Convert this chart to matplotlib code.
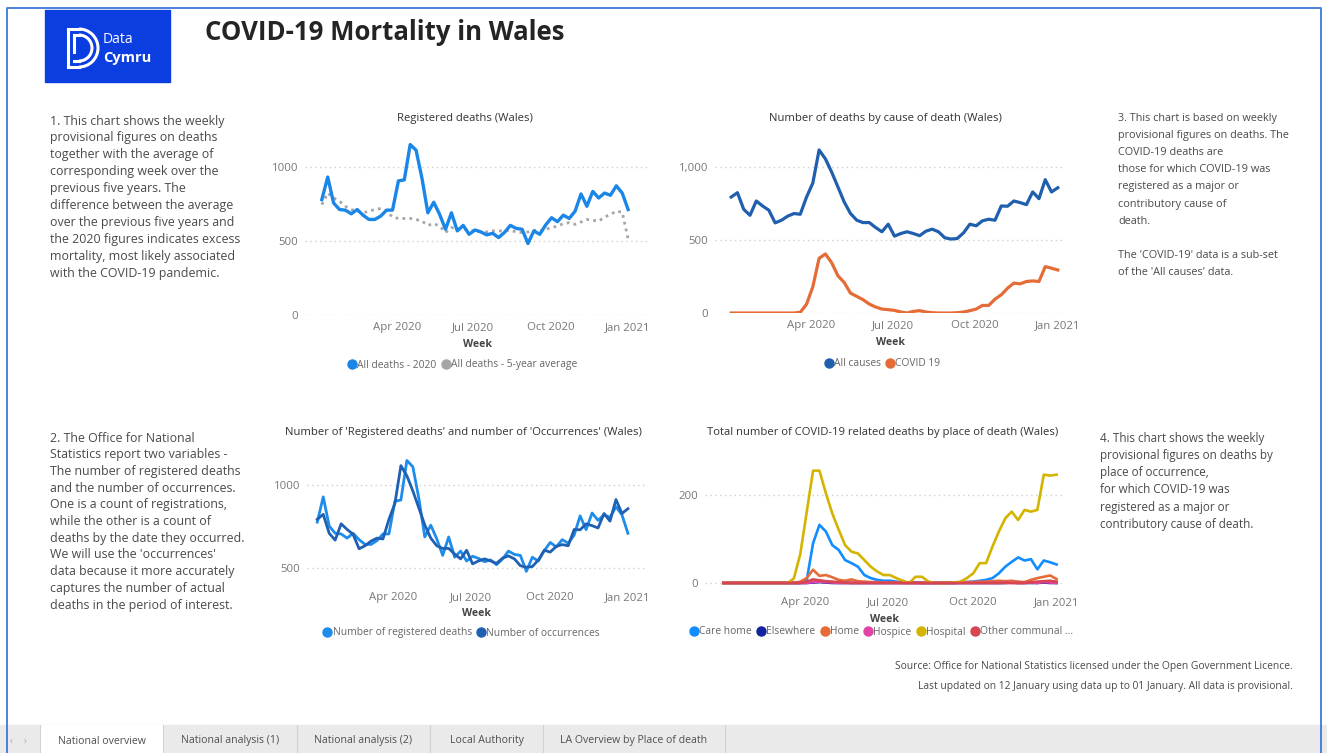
import matplotlib.pyplot as plt
import matplotlib.dates as mdates
import pandas as pd
from matplotlib.lines import Line2D
from matplotlib.patches import Rectangle, Arc

W, H = 1327, 753

# weekly data, week ending 3 Jan 2020 .. 1 Jan 2021
weeks = pd.date_range('2020-01-03', periods=53, freq='7D')
date_ticks = pd.to_datetime(['2020-04-01', '2020-07-01', '2020-10-01', '2021-01-01'])

deaths_2020 = [778, 930, 755, 711, 707, 682, 711, 673, 644, 644, 667, 707, 707, 904, 911,
               1149, 1111, 922, 689, 760, 678, 578, 689, 567, 604, 544, 573, 560, 540, 551,
               522, 556, 604, 584, 578, 482, 567, 544, 607, 656, 629, 673, 651, 700, 816,
               733, 833, 789, 822, 807, 871, 822, 711]
avg_5yr = [744, 822, 789, 767, 733, 711, 700, 689, 700, 711, 718, 700, 660, 651, 651,
           651, 644, 633, 604, 616, 600, 556, 589, 578, 578, 571, 567, 560, 560, 567,
           567, 567, 571, 560, 556, 560, 571, 567, 578, 589, 600, 616, 622, 611, 627,
           644, 638, 633, 660, 678, 700, 693, 511]
all_causes = [795, 825, 711, 670, 768, 734, 705, 618, 636, 664, 682, 677, 795, 891, 1118,
              1057, 966, 864, 761, 682, 636, 620, 620, 586, 557, 609, 527, 545, 557, 545,
              530, 561, 575, 557, 516, 507, 511, 550, 609, 598, 632, 643, 636, 734, 732,
              768, 757, 743, 830, 784, 914, 830, 859]
covid19 = [0, 0, 0, 0, 0, 0, 0, 0, 0, 0, 0, 5, 60, 180, 375,
           405, 345, 255, 209, 136, 114, 91, 61, 41, 27, 23, 18, 7, 0, 11,
           16, 7, 2, 0, 0, 0, 2, 7, 16, 27, 52, 52, 95, 125, 170,
           205, 200, 216, 220, 216, 318, 307, 295]
registered = deaths_2020
occurrences = all_causes

care_home = [0, 0, 0, 0, 0, 0, 0, 0, 0, 0, 0, 0, 0, 5, 90,
             132, 117, 86, 75, 52, 45, 37, 18, 11, 7, 5, 5, 3, 2, 1,
             1, 0, 0, 0, 0, 0, 0, 1, 2, 3, 5, 7, 11, 22, 37,
             48, 58, 51, 54, 31, 51, 47, 42]
elsewhere = [0, 0, 0, 0, 0, 0, 0, 0, 0, 0, 0, 0, 0, 0, 1,
             2, 1, 0, 0, 0, 0, 0, 0, 0, 0, 0, 0, 0, 0, 0,
             0, 0, 0, 0, 0, 0, 0, 0, 0, 0, 0, 0, 0, 0, 0,
             1, 0, 0, 0, 0, 1, 0, 0]
home = [0, 0, 0, 0, 0, 0, 0, 0, 0, 0, 0, 0, 3, 11, 30,
        16, 18, 13, 7, 5, 8, 4, 3, 2, 2, 1, 1, 1, 0, 0,
        0, 0, 0, 0, 0, 0, 0, 1, 2, 2, 3, 3, 4, 5, 4,
        5, 3, 2, 7, 11, 14, 17, 9]
hospice = [0, 0, 0, 0, 0, 0, 0, 0, 0, 0, 0, 0, 0, 0, 2,
           3, 2, 1, 0, 0, 0, 0, 0, 0, 0, 0, 0, 0, 0, 0,
           0, 0, 0, 0, 0, 0, 0, 0, 0, 0, 0, 0, 0, 0, 1,
           0, 0, 0, 1, 0, 2, 1, 0]
hospital = [0, 0, 0, 0, 0, 0, 0, 0, 0, 0, 0, 10, 65, 160, 255,
            255, 204, 158, 121, 86, 71, 67, 52, 37, 26, 18, 18, 11, 5, 0,
            14, 14, 3, 0, 0, 0, 1, 3, 11, 22, 45, 45, 83, 117, 147,
            162, 143, 166, 162, 166, 246, 244, 246]
other_communal = [0, 0, 0, 0, 0, 0, 0, 0, 0, 0, 0, 0, 0, 3, 8,
                  6, 4, 3, 2, 1, 0, 0, 0, 0, 0, 0, 0, 0, 0, 0,
                  0, 0, 0, 0, 0, 0, 0, 0, 0, 0, 0, 0, 0, 0, 0,
                  0, 0, 0, 2, 3, 4, 5, 3]

place_names = ['Care home', 'Elsewhere', 'Home', 'Hospice', 'Hospital', 'Other communal ...']
place_colors = ['#118DFF', '#12239E', '#E66C37', '#E044A7', '#D4B400', '#D64550']

text1 = ["1. This chart shows the weekly",
         "provisional figures on deaths",
         "together with the average of",
         "corresponding week over the",
         "previous five years. The",
         "difference between the average",
         "over the previous five years and",
         "the 2020 figures indicates excess",
         "mortality, most likely associated",
         "with the COVID-19 pandemic."]
text2 = ["2. The Office for National",
         "Statistics report two variables -",
         "The number of registered deaths",
         "and the number of occurrences.",
         "One is a count of registrations,",
         "while the other is a count of",
         "deaths by the date they occurred.",
         "We will use the 'occurrences'",
         "data because it more accurately",
         "captures the number of actual",
         "deaths in the period of interest."]
text3 = ["3. This chart is based on weekly",
         "provisional figures on deaths. The",
         "COVID-19 deaths are",
         "those for which COVID-19 was",
         "registered as a major or",
         "contributory cause of",
         "death.",
         "",
         "The 'COVID-19' data is a sub-set",
         "of the 'All causes' data."]
text4 = ["4. This chart shows the weekly",
         "provisional figures on deaths by",
         "place of occurrence,",
         "for which COVID-19 was",
         "registered as a major or",
         "contributory cause of death."]
tabs = ['National overview', 'National analysis (1)', 'National analysis (2)',
        'Local Authority', 'LA Overview by Place of death']
tab_edges = [40, 163, 297, 430, 543, 725]

plt.rcParams['font.family'] = ['Open Sans', 'DejaVu Sans']

fig = plt.figure(figsize=(W / 100, H / 100), dpi=100)

# background layer in pixel coordinates
bg = fig.add_axes([0, 0, 1, 1])
bg.set_xlim(0, W)
bg.set_ylim(H, 0)
bg.axis('off')

# blue frame
bg.plot([7, 7, 1321, 1321], [H, 8, 8, H], color='#3F78D8', lw=1.3)

# logo
bg.add_patch(Rectangle((45, 10), 125, 72, color='#0B3EE0'))
bg.plot([68, 68], [29, 67], color='white', lw=2.2)
bg.plot([68, 79], [29, 29], color='white', lw=2.2)
bg.plot([68, 79], [67, 67], color='white', lw=2.2)
bg.add_patch(Arc((79, 48), 38, 38, theta1=-90, theta2=90, color='white', lw=2.2))
bg.plot([74, 79], [35, 35], color='white', lw=2.2)
bg.plot([74, 79], [61, 61], color='white', lw=2.2)
bg.plot([74, 74], [35, 52], color='white', lw=2.2)
bg.add_patch(Arc((79, 48), 26, 26, theta1=-90, theta2=90, color='white', lw=2.2))
bg.text(103, 39, 'Data', color='white', fontsize=10, va='center')
bg.text(103, 58, 'Cymru', color='white', fontsize=10.5, fontweight='bold', va='center')

bg.text(205, 32, 'COVID-19 Mortality in Wales', fontsize=18.5, fontweight='bold',
        color='#252423', va='center')


def paragraph(lines, x, y0, pitch=16.9, size=8.9):
    for i, line in enumerate(lines):
        bg.text(x, y0 + i * pitch, line, fontsize=size, color='#4A4A4A', va='center')


paragraph(text1, 50, 121)
paragraph(text2, 50, 438, pitch=16.7)
paragraph(text3, 1118, 118, pitch=17.2, size=7.8)
paragraph(text4, 1100, 438, pitch=17.3, size=8.4)

bg.text(1293, 667, 'Source: Office for National Statistics licensed under the Open Government Licence.',
        fontsize=7.4, color='#4A4A4A', ha='right', va='center')
bg.text(1293, 687, 'Last updated on 12 January using data up to 01 January. All data is provisional.',
        fontsize=7.4, color='#4A4A4A', ha='right', va='center')

# page tabs
bg.add_patch(Rectangle((0, 725), W, H - 725, color='#EAEAEA'))
bg.add_patch(Rectangle((tab_edges[0], 725), tab_edges[1] - tab_edges[0], H - 725, color='white'))
for e in tab_edges:
    bg.plot([e, e], [725, H], color='#D2D2D2', lw=0.8)
for i, name in enumerate(tabs):
    bg.text((tab_edges[i] + tab_edges[i + 1]) / 2, 741, name, fontsize=7.6,
            color='#505050', ha='center', va='center')
bg.text(11, 741, '‹', fontsize=7, color='#B0B0B0', ha='center', va='center')
bg.text(25, 741, '›', fontsize=7, color='#B0B0B0', ha='center', va='center')


def chart_axes(left, top, right, bottom, xlim, ylim, yticks, ylabels):
    ax = fig.add_axes([left / W, 1 - bottom / H, (right - left) / W, (bottom - top) / H])
    ax.set_facecolor('none')
    for s in ax.spines.values():
        s.set_visible(False)
    ax.tick_params(length=0, labelsize=8.2, labelcolor='#777777', pad=5)
    ax.set_xlim(pd.to_datetime(xlim[0]), pd.to_datetime(xlim[1]))
    ax.set_ylim(*ylim)
    ax.set_yticks(yticks)
    ax.set_yticklabels(ylabels)
    ax.grid(axis='y', linestyle=(0, (1, 2.5)), color='#CFCFCF', lw=1)
    ax.set_axisbelow(True)
    ax.set_xticks(date_ticks)
    ax.xaxis.set_major_formatter(mdates.DateFormatter('%b %Y'))
    ax.set_xlabel('Week', fontsize=7.6, fontweight='bold', color='#444444', labelpad=4)
    return ax


def chart_title(text, cx, cy):
    bg.text(cx, cy, text, fontsize=8.1, color='#333333', ha='center', va='center')


def legend(ax, names, colors, cx, cy):
    handles = [Line2D([], [], marker='o', linestyle='none', markersize=6.5, color=c)
               for c in colors]
    ax.legend(handles, names, loc='center', bbox_to_anchor=(cx / W, 1 - cy / H),
              bbox_transform=fig.transFigure, ncol=len(names), frameon=False,
              fontsize=7.4, labelcolor='#666666', handletextpad=0.0,
              columnspacing=0.4, handlelength=1.0)


# 1. Registered deaths
ax1 = chart_axes(305, 137, 650, 315, ('2019-12-14', '2021-01-27'), (0, 1200),
                 [0, 500, 1000], ['0', '500', '1000'])
ax1.plot(weeks, avg_5yr, color='#A6A6A6', lw=2, linestyle=(0, (1, 1.5)))
ax1.plot(weeks, deaths_2020, color='#1A86E8', lw=2.4)
chart_title('Registered deaths (Wales)', 465, 118)
legend(ax1, ['All deaths - 2020', 'All deaths - 5-year average'], ['#1A86E8', '#A6A6A6'], 462, 365)

# 2. Deaths by cause
ax2 = chart_axes(715, 138, 1065, 313, ('2019-12-16', '2021-01-09'), (0, 1200),
                 [0, 500, 1000], ['0', '500', '1,000'])
ax2.plot(weeks, all_causes, color='#1F5FAE', lw=2.3)
ax2.plot(weeks, covid19, color='#E66C37', lw=2.3)
chart_title('Number of deaths by cause of death (Wales)', 885, 118)
legend(ax2, ['All causes', 'COVID 19'], ['#1F5FAE', '#E66C37'], 882, 364)

# 3. Registered vs occurrences
ax3 = chart_axes(307, 452, 645, 585, ('2019-12-22', '2021-01-21'), (400, 1200),
                 [500, 1000], ['500', '1000'])
ax3.plot(weeks, registered, color='#1E8CEB', lw=2)
ax3.plot(weeks, occurrences, color='#1F60B2', lw=2)
chart_title("Number of 'Registered deaths' and number of 'Occurrences' (Wales)", 463, 432)
legend(ax3, ['Number of registered deaths', 'Number of occurrences'], ['#1E8CEB', '#1F60B2'], 461, 633)

# 4. Place of death
ax4 = chart_axes(705, 465, 1063, 590, ('2019-12-14', '2021-01-08'), (-16, 268),
                 [0, 200], ['0', '200'])
for series, c in zip([care_home, elsewhere, home, hospice, hospital, other_communal], place_colors):
    ax4.plot(weeks, series, color=c, lw=1.9)
chart_title('Total number of COVID-19 related deaths by place of death (Wales)', 883, 432)
legend(ax4, place_names, place_colors, 881, 632)

fig.savefig('out.png', dpi=100)
